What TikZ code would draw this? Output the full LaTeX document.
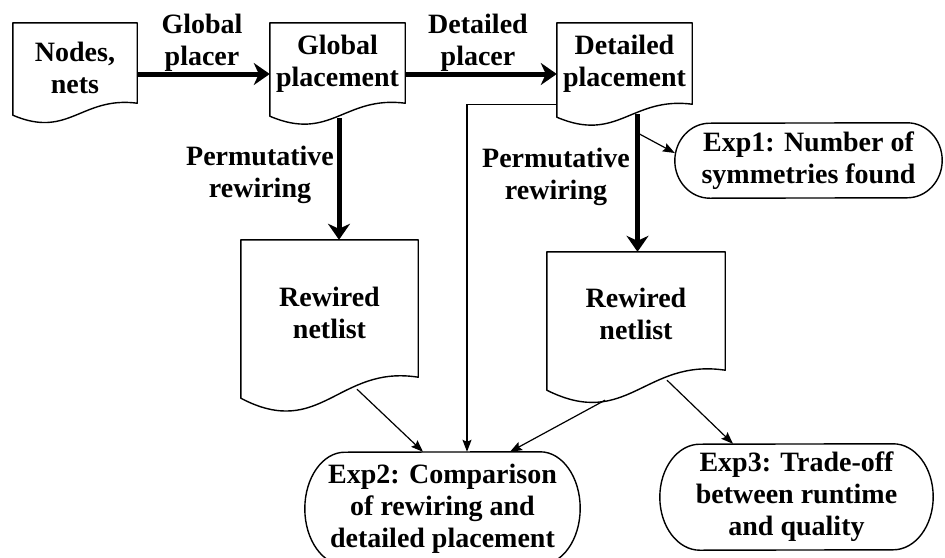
\documentclass[tikz,border=0pt]{standalone}
\usepackage{fontspec}
\setmainfont{Liberation Serif}
\usetikzlibrary{calc,arrows.meta}
\tikzset{
  docnode/.style={rectangle,draw=none,inner sep=0pt},
  expnode/.style={rectangle,draw=none,inner sep=0pt,align=center,font=\fontsize{28}{32}\selectfont\bfseries},
  txt/.style={inner sep=0pt,align=center,font=\fontsize{28}{32}\selectfont\bfseries},
  docline/.style={draw,line width=1.4pt,line join=round},
  expline/.style={draw,line width=1.4pt},
  bigarrow/.style={line width=5pt,-{Stealth[length=16pt,width=22pt,inset=5pt]}},
  thinarrow/.style={line width=1.2pt,-{Stealth[length=12pt,width=9pt,inset=2pt]}},
}
\newcommand\docoutline[2]{%
  \draw[docline] (#1.north west) -- ($(#1.south west)+(0,#2)$)
    .. controls ($(#1.south west)!0.45!(#1.south east)+(0,3*#2)$)
    and ($(#1.south west)!0.55!(#1.south east)+(0,-0.6*#2)$) .. (#1.south east)
    -- (#1.north east) -- cycle;}
\newcommand\expoutline[3]{%
  \draw[expline] ($(#1.north east)+(-#2,0)$)
    arc[start angle=90,end angle=-90,x radius=#2pt,y radius=#3pt]
    -- ($(#1.south west)+(#2,0)$)
    arc[start angle=270,end angle=90,x radius=#2pt,y radius=#3pt] -- cycle;}
\begin{document}
\begin{tikzpicture}[x=1pt,y=-1pt]
\useasboundingbox[fill=white] (0,0) rectangle (945,557);
% document shapes
\node[docnode,minimum width=124pt,minimum height=80pt] (nodes) at (75,63) {};
\node[docnode,minimum width=135pt,minimum height=80pt] (glob) at (337.5,63) {};
\node[docnode,minimum width=135pt,minimum height=81pt] (det) at (624.5,63.5) {};
\node[docnode,minimum width=177pt,minimum height=137pt] (rw1) at (329.5,308.5) {};
\node[docnode,minimum width=178pt,minimum height=118pt] (rw2) at (636,311) {};
\docoutline{nodes}{12}
\docoutline{glob}{13}
\docoutline{det}{13}
\docoutline{rw1}{21}
\docoutline{rw2}{20}
% texts in documents
\node[txt] (nodes-t) at (75,68) {Nodes,\\nets};
\node[txt] (glob-t) at (337.5,64) {Global\\placement};
\node[txt] (det-t) at (624.5,64) {Detailed\\placement};
\node[txt] (rw1-t) at (329.5,313) {Rewired\\netlist};
\node[txt] (rw2-t) at (636,314) {Rewired\\netlist};
% experiment shapes
\node[expnode,minimum width=267pt,minimum height=75pt] (exp1) at (808.5,160.5) {Exp1: Number of\\symmetries found};
\node[expnode,minimum width=275pt,minimum height=113pt] (exp2) at (442.5,508.5) {Exp2: Comparison\\of rewiring and\\detailed placement};
\node[expnode,minimum width=273pt,minimum height=106pt] (exp3) at (796.5,497) {Exp3: Trade-off\\between runtime\\and quality};
\expoutline{exp1}{35}{37.5}
\expoutline{exp2}{40}{56.5}
\expoutline{exp3}{40}{53}
% labels
\node[txt] (lab-gp) at (202,43) {Global\\placer};
\node[txt] (lab-dp) at (478,43) {Detailed\\placer};
\node[txt] (lab-pr1) at (260,175) {Permutative\\rewiring};
\node[txt] (lab-pr2) at (556,176.5) {Permutative\\rewiring};
% thick arrows
\draw[bigarrow] ($(nodes.east)+(0,11)$) -- ($(glob.west)+(0,11)$);
\draw[bigarrow] ($(glob.east)+(0,11)$) -- ($(det.west)+(0,10.5)$);
\coordinate (gs) at ($(glob.south)+(1.5,15)$);
\draw[bigarrow] (gs) -- (gs |- rw1.north);
\coordinate (ds) at ($(det.south)+(13,10)$);
\draw[bigarrow] (ds) -- coordinate[pos=0.14] (dbr) (ds |- rw2.north);
% thin arrows
\draw[thinarrow] ($(dbr)+(1,0)$) -- ($(exp1.west)+(0,-7.5)$);
\draw[thinarrow] (det.south west) -| ($(exp2.north)+(24.5,0)$);
\draw[thinarrow] ($(rw1.south)+(27.5,12)$) -- ($(exp2.north)+(-19.5,0)$);
\draw[thinarrow] ($(rw2.south)+(-31,30)$) -- ($(exp2.north)+(67.5,0)$);
\draw[thinarrow] ($(rw2.south)+(31,10)$) -- ($(exp3.north)+(-63.5,0)$);
\end{tikzpicture}
\end{document}
